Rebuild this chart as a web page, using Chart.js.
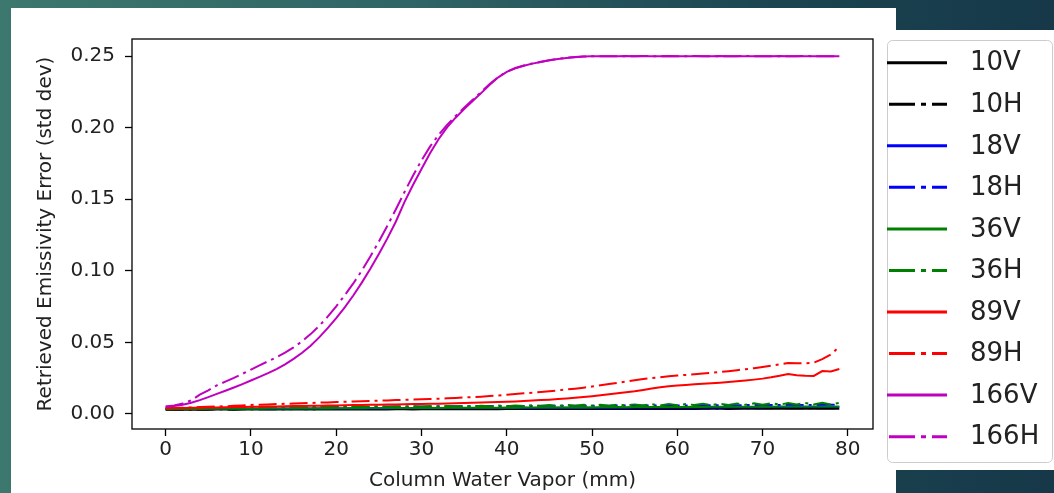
<!DOCTYPE html>
<html lang="en">
<head>
<meta charset="UTF-8">
<title>Retrieved Emissivity Error vs Column Water Vapor</title>
<script src="https://cdn.jsdelivr.net/npm/chart.js"></script>
<style>
    body {
        margin: 0;
        width: 1054px;
        height: 493px;
        overflow: hidden;
        position: relative;
        background: linear-gradient(to right, #3c786e 0%, #2f6365 40%, #1b4350 75%, #163848 100%);
    }
    .paper {
        position: absolute;
        left: 11px; top: 8px;
        width: 885px; height: 485px;
        background: #fff;
    }
    .legend-paper {
        position: absolute;
        left: 896px; top: 30px;
        width: 158px; height: 440px;
        background: #fff;
    }
    .wrap {
        position: absolute;
        left: 0; top: 0;
        width: 1054px; height: 493px;
    }
</style>
</head>
<body>
<div class="paper"></div>
<div class="legend-paper"></div>
<div class="wrap"><canvas id="chart"></canvas></div>

<script>
// column water vapor (mm)
const cwv = [0,1,2,3,4,5,6,7,8,9,10,11,12,13,14,15,16,17,18,19,
    20,21,22,23,24,25,26,27,28,29,30,31,32,33,34,35,36,37,38,39,
    40,41,42,43,44,45,46,47,48,49,50,51,52,53,54,55,56,57,58,59,
    60,61,62,63,64,65,66,67,68,69,70,71,72,73,74,75,76,77,78,79];

const xTicks = [0, 10, 20, 30, 40, 50, 60, 70, 80];
const yTicks = [0, 0.05, 0.10, 0.15, 0.20, 0.25];

const e10V = [.0030,.0030,.0030,.0030,.0031,.0030,.0031,.0031,.0030,.0031,
    .0031,.0031,.0031,.0032,.0031,.0031,.0032,.0031,.0032,.0032,
    .0032,.0032,.0032,.0032,.0033,.0032,.0032,.0033,.0033,.0032,
    .0033,.0033,.0033,.0033,.0033,.0034,.0033,.0033,.0034,.0033,
    .0034,.0034,.0034,.0034,.0034,.0034,.0035,.0034,.0034,.0035,
    .0034,.0035,.0035,.0035,.0035,.0035,.0035,.0035,.0036,.0035,
    .0035,.0036,.0035,.0036,.0036,.0036,.0035,.0036,.0036,.0036,
    .0036,.0037,.0036,.0036,.0036,.0037,.0036,.0037,.0036,.0036];

const e10H = [.0031,.0031,.0032,.0031,.0032,.0032,.0033,.0032,.0032,.0033,
    .0033,.0033,.0034,.0033,.0033,.0034,.0034,.0033,.0034,.0034,
    .0034,.0035,.0034,.0035,.0035,.0034,.0035,.0035,.0035,.0036,
    .0035,.0035,.0036,.0036,.0035,.0036,.0036,.0036,.0037,.0036,
    .0036,.0037,.0037,.0036,.0037,.0037,.0038,.0037,.0037,.0038,
    .0037,.0038,.0038,.0038,.0039,.0038,.0038,.0039,.0039,.0038,
    .0039,.0039,.0039,.0040,.0039,.0039,.0040,.0039,.0040,.0040,
    .0040,.0040,.0041,.0040,.0040,.0041,.0040,.0041,.0040,.0041];

const e18V = [.0034,.0035,.0035,.0035,.0036,.0035,.0036,.0036,.0036,.0037,
    .0036,.0037,.0037,.0037,.0038,.0037,.0038,.0038,.0038,.0038,
    .0039,.0038,.0039,.0039,.0039,.0040,.0039,.0040,.0040,.0040,
    .0040,.0041,.0040,.0041,.0041,.0041,.0042,.0041,.0042,.0042,
    .0042,.0042,.0043,.0042,.0043,.0043,.0043,.0044,.0043,.0044,
    .0044,.0044,.0044,.0045,.0044,.0045,.0045,.0045,.0046,.0045,
    .0046,.0046,.0046,.0046,.0047,.0046,.0047,.0047,.0047,.0048,
    .0047,.0048,.0048,.0048,.0049,.0048,.0049,.0048,.0049,.0049];

const e18H = [.0040,.0041,.0042,.0042,.0043,.0043,.0044,.0044,.0045,.0045,
    .0046,.0046,.0047,.0047,.0047,.0048,.0048,.0049,.0049,.0049,
    .0050,.0050,.0050,.0051,.0051,.0051,.0052,.0052,.0052,.0053,
    .0053,.0053,.0054,.0054,.0054,.0054,.0055,.0055,.0055,.0055,
    .0056,.0056,.0056,.0056,.0057,.0057,.0057,.0057,.0058,.0058,
    .0058,.0058,.0058,.0059,.0059,.0059,.0059,.0059,.0060,.0060,
    .0060,.0060,.0060,.0061,.0061,.0061,.0061,.0061,.0062,.0062,
    .0062,.0062,.0062,.0063,.0063,.0063,.0063,.0063,.0064,.0064];

const e36V = [.0033,.0034,.0034,.0035,.0035,.0036,.0036,.0036,.0037,.0037,
    .0038,.0037,.0038,.0038,.0039,.0038,.0039,.0039,.0040,.0039,
    .0040,.0040,.0041,.0040,.0041,.0041,.0042,.0041,.0042,.0042,
    .0042,.0043,.0042,.0043,.0043,.0044,.0043,.0044,.0044,.0044,
    .0045,.0044,.0045,.0045,.0046,.0045,.0046,.0046,.0046,.0047,
    .0046,.0047,.0047,.0048,.0047,.0048,.0048,.0048,.0049,.0048,
    .0049,.0049,.0050,.0049,.0050,.0050,.0051,.0050,.0051,.0051,
    .0052,.0051,.0052,.0052,.0053,.0052,.0053,.0052,.0053,.0053];

const e36H = [.0036,.0038,.0037,.0040,.0039,.0042,.0040,.0043,.0041,.0044,
    .0042,.0045,.0043,.0046,.0044,.0047,.0045,.0048,.0046,.0049,
    .0047,.0050,.0048,.0051,.0048,.0052,.0049,.0053,.0050,.0054,
    .0051,.0055,.0051,.0056,.0052,.0057,.0053,.0058,.0054,.0059,
    .0054,.0060,.0055,.0061,.0056,.0062,.0056,.0063,.0057,.0064,
    .0058,.0065,.0058,.0066,.0059,.0067,.0060,.0068,.0060,.0069,
    .0061,.0070,.0062,.0071,.0062,.0072,.0063,.0073,.0064,.0074,
    .0064,.0075,.0065,.0076,.0066,.0077,.0066,.0078,.0067,.0078];

const e89V = [.0040,.0041,.0042,.0043,.0044,.0045,.0046,.0047,.0048,.0049,
    .0050,.0051,.0052,.0053,.0054,.0055,.0056,.0057,.0058,.0059,
    .0060,.0061,.0062,.0063,.0064,.0065,.0066,.0067,.0068,.0069,
    .0070,.0071,.0072,.0073,.0075,.0076,.0078,.0080,.0082,.0084,
    .0086,.0088,.0091,.0094,.0097,.0100,.0104,.0108,.0113,.0118,
    .0124,.0130,.0137,.0144,.0151,.0158,.0168,.0178,.0187,.0194,
    .0199,.0203,.0207,.0211,.0215,.0219,.0223,.0228,.0234,.0240,
    .0247,.0256,.0267,.0280,.0271,.0267,.0266,.0300,.0297,.0314];

const e89H = [.0040,.0042,.0044,.0046,.0048,.0050,.0052,.0054,.0057,.0060,
    .0063,.0065,.0067,.0069,.0071,.0073,.0075,.0077,.0079,.0081,
    .0083,.0085,.0087,.0089,.0091,.0093,.0095,.0097,.0099,.0101,
    .0103,.0105,.0107,.0109,.0112,.0115,.0118,.0121,.0125,.0129,
    .0134,.0139,.0144,.0149,.0154,.0159,.0165,.0171,.0177,.0184,
    .0192,.0200,.0209,.0218,.0227,.0236,.0244,.0251,.0257,.0263,
    .0268,.0273,.0278,.0283,.0288,.0293,.0299,.0306,.0313,.0320,
    .0328,.0337,.0347,.0356,.0355,.0354,.0358,.0383,.0415,.0470];

const e166V = [.0050,.0056,.0065,.0078,.0097,.0118,.0140,.0162,.0185,.0209,
    .0234,.0259,.0285,.0314,.0347,.0385,.0428,.0477,.0535,.0600,
    .0670,.0745,.0828,.0918,.1015,.1118,.1227,.1345,.1480,.1600,
    .1712,.1822,.1920,.2002,.2070,.2130,.2187,.2242,.2300,.2352,
    .2390,.2415,.2433,.2448,.2460,.2471,.2480,.2488,.2493,.2497,
    .2499,.2500,.2500,.2500,.2501,.2500,.2500,.2500,.2500,.2501,
    .2500,.2500,.2500,.2500,.2500,.2501,.2500,.2500,.2500,.2500,
    .2500,.2500,.2501,.2500,.2500,.2500,.2500,.2500,.2500,.2500];

const e166H = [.0052,.0060,.0074,.0095,.0135,.0165,.0200,.0226,.0252,.0280,
    .0310,.0340,.0368,.0397,.0428,.0465,.0508,.0558,.0615,.0680,
    .0752,.0830,.0912,.1002,.1100,.1205,.1315,.1430,.1550,.1665,
    .1772,.1868,.1950,.2020,.2082,.2140,.2195,.2250,.2305,.2355,
    .2392,.2417,.2435,.2449,.2461,.2472,.2481,.2489,.2494,.2497,
    .2499,.2500,.2500,.2500,.2500,.2500,.2501,.2500,.2500,.2500,
    .2500,.2500,.2501,.2500,.2500,.2500,.2500,.2500,.2501,.2500,
    .2500,.2500,.2500,.2500,.2500,.2501,.2500,.2500,.2500,.2500];

// channel -> colour / line style
const channels = [
    { label: '10V',  data: e10V,  color: '#000000', dashed: false },
    { label: '10H',  data: e10H,  color: '#000000', dashed: true },
    { label: '18V',  data: e18V,  color: '#0000ff', dashed: false },
    { label: '18H',  data: e18H,  color: '#0000ff', dashed: true },
    { label: '36V',  data: e36V,  color: '#008000', dashed: false },
    { label: '36H',  data: e36H,  color: '#008000', dashed: true },
    { label: '89V',  data: e89V,  color: '#ff0000', dashed: false },
    { label: '89H',  data: e89H,  color: '#ff0000', dashed: true },
    { label: '166V', data: e166V, color: '#bf00bf', dashed: false },
    { label: '166H', data: e166H, color: '#bf00bf', dashed: true }
];

const FONT = 'DejaVu Sans';
const TEXT = '#222222';

const datasets = channels.map((c, i) => ({
    label: c.label,
    data: c.data.map((v, j) => ({ x: cwv[j], y: v })),
    borderColor: c.color,
    backgroundColor: c.color,
    borderWidth: 2,
    borderDash: c.dashed ? [18, 5, 3, 5] : [],
    pointRadius: 0,
    tension: 0,
    fill: false,
    order: channels.length - i   // later channels drawn on top, like matplotlib
}));

// black box around the plot area
const frame = {
    id: 'frame',
    afterDatasetsDraw(chart) {
        const { ctx, chartArea: a } = chart;
        ctx.save();
        ctx.strokeStyle = '#000';
        ctx.lineWidth = 1.3;
        ctx.strokeRect(a.left, a.top, a.right - a.left, a.bottom - a.top);
        ctx.restore();
    }
};

// legend to the right, partly outside the figure
const sideLegend = {
    id: 'sideLegend',
    afterDraw(chart) {
        const ctx = chart.ctx;
        ctx.save();
        ctx.fillStyle = '#ffffff';
        ctx.strokeStyle = '#cccccc';
        ctx.lineWidth = 1;
        ctx.beginPath();
        ctx.roundRect(887.5, 40.5, 165, 422, 5);
        ctx.fill();
        ctx.stroke();

        ctx.font = '26px "' + FONT + '"';
        ctx.textBaseline = 'middle';
        chart.data.datasets.forEach((ds, i) => {
            const y = 62.7 + i * 41.55;
            ctx.strokeStyle = ds.borderColor;
            ctx.lineWidth = 3;
            ctx.setLineDash(ds.borderDash.length ? [26, 6, 5, 6] : []);
            ctx.beginPath();
            ctx.moveTo(ds.borderDash.length ? 889 : 887, y);
            ctx.lineTo(947, y);
            ctx.stroke();
            ctx.setLineDash([]);
            ctx.fillStyle = TEXT;
            ctx.fillText(ds.label, 970, y + 1);
        });
        ctx.restore();
    }
};

new Chart(document.getElementById('chart'), {
    type: 'line',
    data: { datasets },
    options: {
        responsive: true,
        maintainAspectRatio: false,
        animation: false,
        layout: { padding: { left: 0, top: 39, right: 181, bottom: 0 } },
        plugins: {
            legend: { display: false },
            tooltip: { enabled: false }
        },
        scales: {
            x: {
                type: 'linear',
                min: -3.95,
                max: 82.95,
                afterBuildTicks: s => { s.ticks = xTicks.map(v => ({ value: v })); },
                afterFit: s => { s.height = 64; },
                grid: { drawOnChartArea: false, tickLength: 7, tickColor: '#000', tickWidth: 1.3 },
                border: { display: false },
                ticks: {
                    color: TEXT, font: { family: FONT, size: 20 },
                    padding: 2, maxRotation: 0, autoSkip: false
                },
                title: {
                    display: true, text: 'Column Water Vapor (mm)',
                    color: TEXT, font: { family: FONT, size: 20 }, padding: 0
                }
            },
            y: {
                type: 'linear',
                min: -0.0105,
                max: 0.262,
                afterBuildTicks: s => { s.ticks = yTicks.map(v => ({ value: v })); },
                afterFit: s => { s.width = 132; },
                grid: { drawOnChartArea: false, tickLength: 7, tickColor: '#000', tickWidth: 1.3 },
                border: { display: false },
                ticks: {
                    color: TEXT, font: { family: FONT, size: 20 },
                    padding: 10,
                    callback: v => v.toFixed(2)
                },
                title: {
                    display: true, text: 'Retrieved Emissivity Error (std dev)',
                    color: TEXT, font: { family: FONT, size: 20 },
                    padding: { top: 34, bottom: 0 }
                }
            }
        }
    },
    plugins: [frame, sideLegend]
});
</script>
</body>
</html>
